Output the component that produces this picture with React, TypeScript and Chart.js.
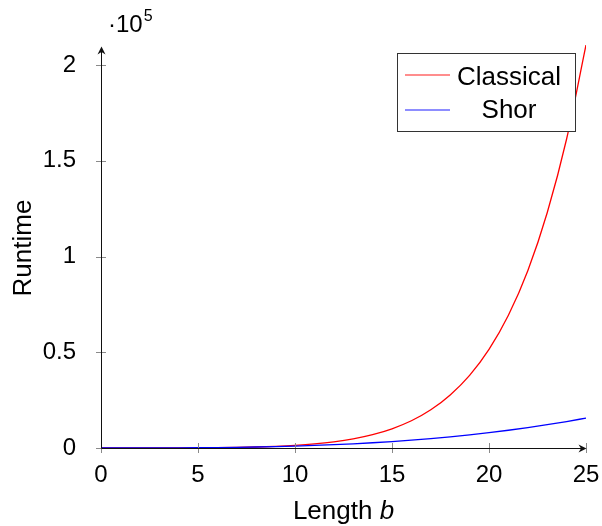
import React, { useEffect, useRef } from "react";
import { Chart, registerables } from "chart.js";

Chart.register(...registerables);

const lengths = [0, 1, 2, 3, 4, 5, 6, 7, 8, 9, 10, 11, 12, 13, 14, 15, 16, 17, 18, 19, 20, 21, 22, 23, 24, 25];
const classical = [1, 1, 6.7, 19, 45, 92, 173, 310, 526, 863, 1373, 2126, 3218, 4781, 6982, 10040, 14220, 19950, 27730, 37960, 51560, 69360, 92600, 122900, 161400, 210500];
const shor = [0, 1, 8, 27, 64, 125, 216, 343, 512, 729, 1000, 1331, 1728, 2197, 2744, 3375, 4096, 4913, 5832, 6859, 8000, 9261, 10648, 12167, 13824, 15625];
const xTicks = [0, 5, 10, 15, 20, 25];
const yTicks = [0, 50000, 100000, 150000, 200000];
const yTickLabels = ["0", "0.5", "1", "1.5", "2"];
const seriesNames = ["Classical", "Shor"];
const seriesColors = ["#ff0000", "#0000ff"];
const xTitle = "Length ";
const xTitleItalic = "b";
const yTitle = "Runtime";

const FONT = "'Liberation Sans', Arial, Helvetica, sans-serif";

function drawStealth(ctx: CanvasRenderingContext2D, x: number, y: number, dir: "up" | "right") {
  ctx.save();
  ctx.translate(x, y);
  if (dir === "up") ctx.rotate(-Math.PI / 2);
  ctx.beginPath();
  ctx.moveTo(0, 0);
  ctx.lineTo(-8, -4);
  ctx.lineTo(-5.5, 0);
  ctx.lineTo(-8, 4);
  ctx.closePath();
  ctx.fillStyle = "#111";
  ctx.fill();
  ctx.restore();
}

const decorPlugin = {
  id: "decor",
  afterDraw(chart: any) {
    const ctx: CanvasRenderingContext2D = chart.ctx;
    const { left, right, top, bottom } = chart.chartArea;
    const xs = chart.scales.x;
    const ys = chart.scales.y;
    ctx.save();
    // tick marks
    ctx.strokeStyle = "#8a8a8a";
    ctx.lineWidth = 1;
    xs.ticks.forEach((t: any) => {
      const px = Math.round(xs.getPixelForValue(t.value)) + 0.5;
      ctx.beginPath();
      ctx.moveTo(px, bottom - 5);
      ctx.lineTo(px, bottom + 5);
      ctx.stroke();
    });
    ys.ticks.forEach((t: any) => {
      const py = Math.round(ys.getPixelForValue(t.value)) + 0.5;
      ctx.beginPath();
      ctx.moveTo(left - 5, py);
      ctx.lineTo(left + 5, py);
      ctx.stroke();
    });
    // axis lines
    ctx.strokeStyle = "#111";
    ctx.lineWidth = 1;
    const ax = Math.round(left) + 0.5;
    const ay = Math.round(bottom) + 0.5;
    ctx.beginPath();
    ctx.moveTo(ax, ay);
    ctx.lineTo(right - 2, ay);
    ctx.moveTo(ax, ay);
    ctx.lineTo(ax, top + 4);
    ctx.stroke();
    drawStealth(ctx, right + 0.5, ay, "right");
    drawStealth(ctx, ax, top + 1.5, "up");

    // multiplier label
    ctx.fillStyle = "#000";
    ctx.textBaseline = "alphabetic";
    ctx.textAlign = "left";
    ctx.font = `24px ${FONT}`;
    ctx.fillText("\u00b710", 108, 32);
    const w10 = ctx.measureText("\u00b710").width;
    ctx.font = `16px ${FONT}`;
    ctx.fillText("5", 108 + w10 + 1, 21);

    // x title
    ctx.font = `26px ${FONT}`;
    const w1 = ctx.measureText(xTitle).width;
    ctx.font = `italic 26px ${FONT}`;
    const w2 = ctx.measureText(xTitleItalic).width;
    const cx = (left + right) / 2;
    const sx = cx - (w1 + w2) / 2;
    ctx.font = `26px ${FONT}`;
    ctx.fillText(xTitle, sx, 519);
    ctx.font = `italic 26px ${FONT}`;
    ctx.fillText(xTitleItalic, sx + w1, 519);

    // y title
    ctx.save();
    ctx.translate(31, 248);
    ctx.rotate(-Math.PI / 2);
    ctx.font = `26px ${FONT}`;
    ctx.textAlign = "center";
    ctx.textBaseline = "alphabetic";
    ctx.fillText(yTitle, 0, 0);
    ctx.restore();

    // legend
    const bx = 397.5, by = 53.5, bw = 178, bh = 78;
    ctx.fillStyle = "#fff";
    ctx.fillRect(bx, by, bw, bh);
    ctx.strokeStyle = "#333";
    ctx.lineWidth = 1;
    ctx.strokeRect(bx, by, bw, bh);
    const rows = [75, 110];
    const baselines = [85, 118];
    seriesNames.forEach((name, i) => {
      ctx.strokeStyle = seriesColors[i];
      ctx.globalAlpha = 0.6;
      ctx.lineWidth = 1.3;
      ctx.beginPath();
      ctx.moveTo(405, rows[i]);
      ctx.lineTo(450, rows[i]);
      ctx.stroke();
      ctx.globalAlpha = 1;
      ctx.fillStyle = "#000";
      ctx.font = `26px ${FONT}`;
      ctx.textAlign = "center";
      ctx.fillText(name, 509, baselines[i]);
    });
    ctx.restore();
  },
};

export default function App() {
  const ref = useRef<HTMLCanvasElement | null>(null);
  useEffect(() => {
    if (!ref.current) return;
    const chart = new Chart(ref.current, {
      type: "line",
      data: {
        datasets: [
          {
            label: seriesNames[0],
            data: lengths.map((b, i) => ({ x: b, y: classical[i] })),
            borderColor: seriesColors[0],
            borderWidth: 1.3,
            pointRadius: 0,
            cubicInterpolationMode: "monotone",
            fill: false,
            order: 1,
          },
          {
            label: seriesNames[1],
            data: lengths.map((b, i) => ({ x: b, y: shor[i] })),
            borderColor: seriesColors[1],
            borderWidth: 1.3,
            pointRadius: 0,
            cubicInterpolationMode: "monotone",
            fill: false,
            order: 0,
          },
        ],
      },
      options: {
        responsive: false,
        animation: false,
        events: [],
        layout: { padding: { left: 0, top: 45, right: 16, bottom: 0 } },
        plugins: { legend: { display: false }, tooltip: { enabled: false } },
        scales: {
          x: {
            type: "linear",
            min: 0,
            max: 25,
            border: { display: false },
            grid: { display: false },
            afterBuildTicks: (s: any) => {
              s.ticks = xTicks.map((v) => ({ value: v }));
            },
            ticks: {
              padding: 5,
              color: "#000",
              font: { family: FONT, size: 24 },
              maxRotation: 0,
              autoSkip: false,
              callback: (v: any) => String(v),
            },
            afterFit: (s: any) => {
              s.height = 78;
              s.paddingLeft = 0;
              s.paddingRight = 0;
            },
          },
          y: {
            type: "linear",
            min: 0,
            max: 210500,
            border: { display: false },
            grid: { display: false },
            afterBuildTicks: (s: any) => {
              s.ticks = yTicks.map((v) => ({ value: v }));
            },
            ticks: {
              padding: 17,
              color: "#000",
              autoSkip: false,
              font: { family: FONT, size: 24 },
              callback: (v: any) => {
                const i = yTicks.indexOf(Number(v));
                return i >= 0 ? yTickLabels[i] : "";
              },
            },
            afterFit: (s: any) => {
              s.width = 101;
              s.paddingTop = 0;
              s.paddingBottom = 0;
            },
          },
        },
      },
      plugins: [decorPlugin],
    } as any);
    return () => chart.destroy();
  }, []);
  return (
    <div style={{ position: "absolute", left: 0, top: 0, width: 602, height: 526, background: "#fff" }}>
      <canvas ref={ref} width={602} height={526} style={{ display: "block" }} />
    </div>
  );
}
